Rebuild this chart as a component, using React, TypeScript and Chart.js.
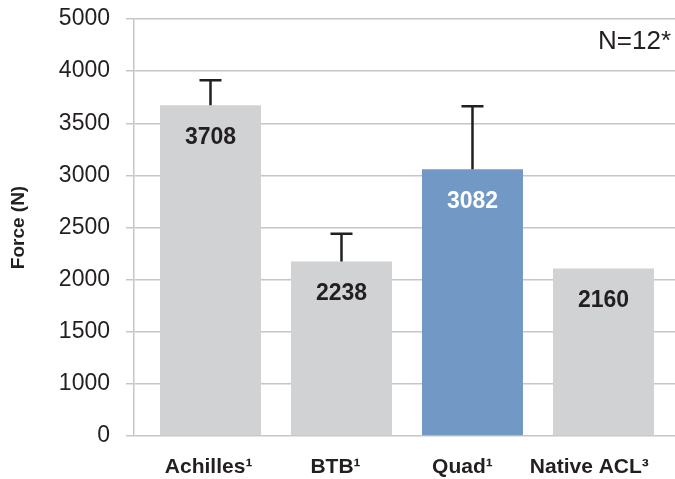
import React, { useEffect, useRef } from 'react';
import { Chart, registerables, LinearScale } from 'chart.js';

// ---- data ----
const categories = ['Achilles¹', 'BTB¹', 'Quad¹', 'Native ACL³'];
const barValues = [3673, 2173, 3058, 2106];          // bar tops, in axis units
const errorTops = [3913, 2441, 3663, null];          // upper error-bar ends
const valueLabels = ['3708', '2238', '3082', '2160'];
const yTickValues = [0, 1000, 1500, 2000, 2500, 3000, 3500, 4000, 5000];
const yAxisTitle = 'Force (N)';
const noteText = 'N=12*';

// ---- styles ----
const FONT = '"Liberation Sans", Arial, sans-serif';
const TEXT = '#231F20';
const GRID = '#C6C6C6';
const barColors = ['#D1D2D4', '#D1D2D4', '#7299C6', '#D1D2D4'];
const labelColors = [TEXT, TEXT, '#FFFFFF', TEXT];

// Axis whose labelled gridlines are evenly spaced (the reference's axis is segmented)
class SegmentedScale extends LinearScale {
  static id = 'segmented';
  getPixelForValue(value: number) {
    const s = yTickValues;
    const n = s.length - 1;
    let k = 0;
    while (k < n - 1 && value > s[k + 1]) k++;
    const t = (value - s[k]) / (s[k + 1] - s[k]);
    return this.getPixelForDecimal((k + t) / n);
  }
  getValueForPixel(pixel: number) {
    const n = yTickValues.length - 1;
    const d = this.getDecimalForPixel(pixel) * n;
    const k = Math.max(0, Math.min(n - 1, Math.floor(d)));
    return yTickValues[k] + (d - k) * (yTickValues[k + 1] - yTickValues[k]);
  }
}

Chart.register(...registerables, SegmentedScale);

const overlayPlugin = {
  id: 'overlay',
  afterDatasetsDraw(chart: any) {
    const ctx = chart.ctx;
    const meta = chart.getDatasetMeta(0);
    const y = chart.scales.y;
    ctx.save();
    meta.data.forEach((bar: any, i: number) => {
      const top = errorTops[i];
      if (top != null) {
        const yt = y.getPixelForValue(top);
        ctx.strokeStyle = TEXT;
        ctx.lineWidth = 2.5;
        ctx.beginPath();
        ctx.moveTo(bar.x, bar.y);
        ctx.lineTo(bar.x, yt);
        ctx.moveTo(bar.x - 11, yt);
        ctx.lineTo(bar.x + 11, yt);
        ctx.stroke();
      }
      ctx.fillStyle = labelColors[i];
      ctx.font = `bold 23px ${FONT}`;
      ctx.textAlign = 'center';
      ctx.textBaseline = 'middle';
      ctx.fillText(valueLabels[i], bar.x, bar.y + 32);
    });
    ctx.font = `26px ${FONT}`;
    ctx.textAlign = 'right';
    ctx.textBaseline = 'middle';
    ctx.fillStyle = TEXT;
    ctx.fillText(noteText, chart.chartArea.right - 4, 42);
    ctx.restore();
  },
};

export default function App() {
  const ref = useRef<HTMLCanvasElement>(null);
  useEffect(() => {
    if (!ref.current) return;
    const chart = new Chart(ref.current, {
      type: 'bar',
      data: {
        datasets: [
          {
            data: barValues.map((v, i) => ({ x: i, y: v })),
            backgroundColor: barColors,
            borderWidth: 0,
            barPercentage: 0.771,
            categoryPercentage: 1,
            xAxisID: 'x',
            yAxisID: 'y',
          } as any,
        ],
      },
      options: {
        animation: false,
        responsive: false,
        events: [],
        layout: { padding: { top: 19, right: 0, bottom: 0, left: 0 } },
        plugins: { legend: { display: false }, tooltip: { enabled: false } },
        scales: {
          x: {
            type: 'linear',
            display: false,
            offset: false,
            min: -0.584,
            max: 3.546,
            bounds: 'data',
            afterBuildTicks: (s: any) => {
              s.ticks = categories.map((_, i) => ({ value: i }));
            },
          },
          xl: {
            type: 'linear',
            axis: 'x',
            position: 'bottom',
            offset: false,
            min: -0.588,
            max: 3.675,
            bounds: 'data',
            afterBuildTicks: (s: any) => {
              s.ticks = categories.map((_, i) => ({ value: i }));
            },
            afterFit: (s: any) => {
              s.height = 43;
              s.paddingTop = 0;
              s.paddingBottom = 0;
            },
            grid: { display: false, drawTicks: false },
            border: { display: false },
            ticks: {
              autoSkip: false,
              maxRotation: 0,
              padding: 19,
              color: TEXT,
              font: { family: FONT, size: 21, weight: 'bold' },
              callback: (v: any) => categories[v] ?? '',
            },
          },
          y: {
            type: 'segmented',
            min: 0,
            max: 5000,
            afterBuildTicks: (s: any) => {
              s.ticks = yTickValues.map((v) => ({ value: v }));
            },
            afterFit: (s: any) => {
              s.width = 134;
              s.paddingTop = 0;
              s.paddingBottom = 0;
            },
            grid: { color: GRID, lineWidth: 1.5, tickLength: 8 },
            border: { color: GRID, width: 1.5 },
            ticks: {
              padding: 16,
              color: TEXT,
              font: { family: FONT, size: 23 },
              callback: (v: any) => String(v),
            },
            title: {
              display: true,
              text: yAxisTitle,
              color: TEXT,
              font: { family: FONT, size: 19, weight: 'bold' },
              padding: { top: 7, bottom: 0 },
            },
          } as any,
        } as any,
      },
      plugins: [overlayPlugin],
    });
    return () => chart.destroy();
  }, []);
  return (
    <canvas
      ref={ref}
      width={675}
      height={479}
      style={{ position: 'absolute', left: 0, top: 0, width: 675, height: 479 }}
    />
  );
}
